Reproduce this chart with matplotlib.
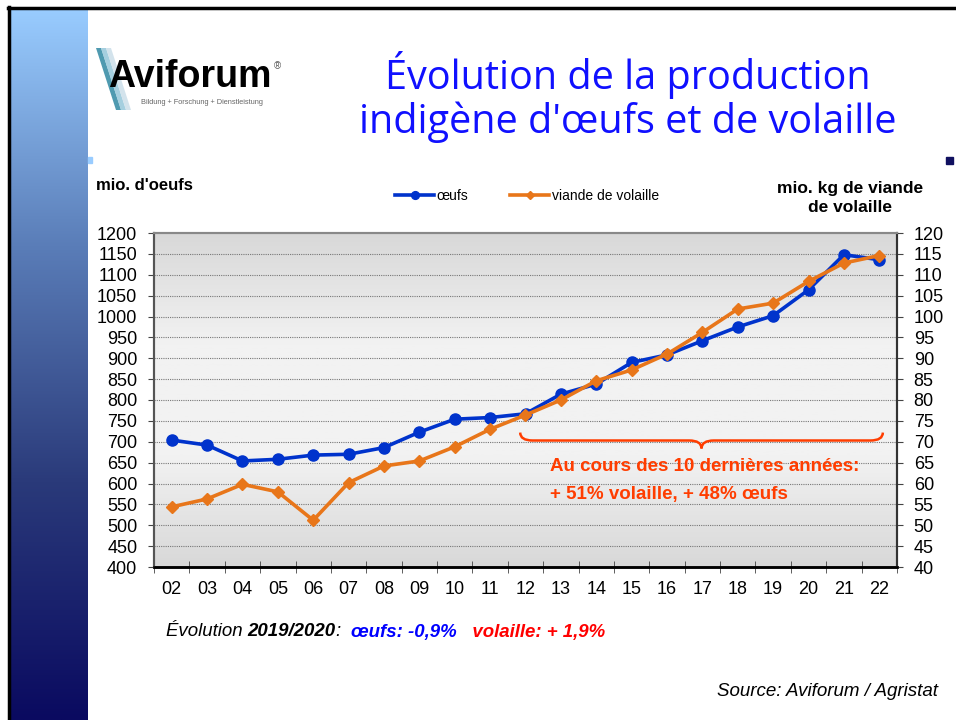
import numpy as np
import matplotlib
matplotlib.use("Agg")
import matplotlib.pyplot as plt
from matplotlib.path import Path
from matplotlib.patches import PathPatch, Polygon, Rectangle
from matplotlib.lines import Line2D
from matplotlib.colors import LinearSegmentedColormap

plt.rcParams['font.family'] = ['Liberation Sans', 'DejaVu Sans']

# ── données ──
years = ["02", "03", "04", "05", "06", "07", "08", "09", "10", "11", "12",
         "13", "14", "15", "16", "17", "18", "19", "20", "21", "22"]
oeufs = [704, 692, 654, 658, 668, 670, 686, 723, 754, 758, 767,
         814, 838, 890, 908, 942, 975, 1002, 1064, 1148, 1136]
volaille = [54.4, 56.3, 59.8, 58.0, 51.2, 60.2, 64.2, 65.4, 68.8, 73.0, 76.4,
            80.0, 84.6, 87.2, 91.0, 96.2, 101.8, 103.2, 108.4, 112.8, 114.6]
left_ticks = list(range(400, 1201, 50))
right_ticks = list(range(40, 121, 5))

BLUE = "#0033CC"
ORANGE = "#E8761A"
RED = "#FF3D00"

W, H = 956, 720
fig = plt.figure(figsize=(W / 100, H / 100), dpi=100)

# ── fond de la diapo (coordonnées pixel) ──
bg = fig.add_axes([0, 0, 1, 1], zorder=0)
bg.set_xlim(0, W); bg.set_ylim(H, 0); bg.axis("off")
grad = np.linspace(0, 1, 256)[:, None]
cm_bar = LinearSegmentedColormap.from_list("bar", ["#99CCFF", "#5A7DB8", "#2A3A7A", "#0A0A60"])
bg.imshow(grad, cmap=cm_bar, extent=[10, 88, H, 8], aspect="auto", zorder=1)
bg.add_line(Line2D([9, 9], [7, H], color="black", lw=2.5))
bg.add_line(Line2D([8, W], [7.5, 7.5], color="black", lw=2.5))
bg.add_patch(Rectangle((88, 157), 4, 6, color="#99CCFF"))
bg.add_patch(Rectangle((946, 157), 7, 7, color="#101060"))

# logo Aviforum
for dx, col, a in [(0, "#3C8FA8", 0.9), (5, "#8FC4D8", 0.8), (10, "#C9DDE8", 0.8)]:
    bg.add_patch(Polygon([[96 + dx, 48], [101 + dx, 48], [121 + dx, 110], [116 + dx, 110]],
                         closed=True, color=col, alpha=a, lw=0))
bg.text(108, 77, "Aviforum", fontsize=27, fontweight="bold", color="black",
        va="center", ha="left")
bg.text(274, 66, "®", fontsize=7, color="#555555", va="center", ha="left")
bg.text(141, 102, "Bildung + Forschung + Dienstleistung", fontsize=5.3,
        color="#666666", va="center", ha="left")

# titre
bg.text(628, 97, "Évolution de la production\nindigène d'œufs et de volaille",
        fontsize=28.5, color="#1010FF", ha="center", va="center",
        family=["Open Sans", "DejaVu Sans"], linespacing=1.05)

# ── graphique ──
ax = fig.add_axes([154 / W, 1 - 567 / H, (897 - 154) / W, (567 - 233) / H], zorder=2)
x = np.arange(len(years))
ax.set_xlim(-0.5, len(years) - 0.5)
ax.set_ylim(400, 1200)

cm_plot = LinearSegmentedColormap.from_list("pl", ["#D8D8D8", "#F2F2F2", "#F2F2F2", "#D8D8D8"])
ax.imshow(grad, cmap=cm_plot, extent=[-0.5, len(years) - 0.5, 400, 1200],
          aspect="auto", zorder=0)
for v in left_ticks[1:-1]:
    ax.axhline(v, color="#777777", lw=0.8, ls=(0, (1, 1)), zorder=1)

ax2 = ax.twinx()
ax2.set_ylim(40, 120)

ax.plot(x, oeufs, color=BLUE, lw=2.6, marker="o", ms=8, zorder=3, label="œufs")
ax2.plot(x, volaille, color=ORANGE, lw=2.6, marker="D", ms=6, zorder=3,
         label="viande de volaille")

ax.set_yticks(left_ticks)
ax.set_yticklabels([str(v) for v in left_ticks], fontsize=13)
ax2.set_yticks(right_ticks)
ax2.set_yticklabels([str(v) for v in right_ticks], fontsize=13)
ax.set_xticks(x)
ax.set_xticklabels(years, fontsize=13)
ax.tick_params(axis="x", length=0, pad=10)
ax.set_xticks(np.arange(-0.5, len(years)), minor=True)
ax.tick_params(axis="x", which="minor", length=8, direction="inout", color="#444444")
ax.tick_params(axis="y", length=4, color="#444444", pad=8)
ax2.tick_params(axis="y", length=4, color="#444444", pad=8)

for a in (ax, ax2):
    a.spines["top"].set_color("#888888"); a.spines["top"].set_linewidth(1.5)
    a.spines["bottom"].set_color("black"); a.spines["bottom"].set_linewidth(1.8)
    a.spines["left"].set_color("#555555"); a.spines["left"].set_linewidth(1.5)
    a.spines["right"].set_color("#333333"); a.spines["right"].set_linewidth(1.5)

# accolade
x0, x1, xc = 9.85, 20.1, (9.85 + 20.1) / 2
yt, ym, yb = 722, 703, 684
q = 0.35
verts = [(x0, yt), (x0, ym), (x0 + q, ym), (xc - q, ym), (xc, ym), (xc, yb),
         (xc, ym), (xc + q, ym), (x1 - q, ym), (x1, ym), (x1, yt)]
codes = [Path.MOVETO, Path.CURVE3, Path.CURVE3, Path.LINETO, Path.CURVE3, Path.CURVE3,
         Path.CURVE3, Path.CURVE3, Path.LINETO, Path.CURVE3, Path.CURVE3]
ax.add_patch(PathPatch(Path(verts, codes), fill=False, edgecolor=RED, lw=1.8, zorder=4))
ax.text(10.7, 640, "Au cours des 10 dernières années:", color=RED, fontsize=13.5,
        fontweight="bold", va="center", ha="left", zorder=5)
ax.text(10.7, 574, "+ 51% volaille, + 48% œufs", color=RED, fontsize=13.5,
        fontweight="bold", va="center", ha="left", zorder=5)

# légende et titres d'axes
h1, l1 = ax.get_legend_handles_labels()
h2, l2 = ax2.get_legend_handles_labels()
leg = fig.legend(h1 + h2, l1 + l2, loc="center", bbox_to_anchor=(527 / W, 1 - 196 / H),
                 ncol=2, frameon=False, fontsize=10, handlelength=2.8, markerscale=0.7,
                 columnspacing=3.0, handletextpad=0.2)
bg.text(96, 186, "mio. d'oeufs", fontsize=12, fontweight="bold", va="center", ha="left")
bg.text(850, 198, "mio. kg de viande\nde volaille", fontsize=12.5, fontweight="bold",
        va="center", ha="center", linespacing=1.25)

# texte du bas
parts = [("Évolution ", "black", "normal"), ("2019/2020", "black", "bold"),
         (":  ", "black", "normal"), ("œufs: -0,9%", "#0000FF", "bold"),
         ("   volaille: + 1,9%", "#FF0000", "bold")]
fig.canvas.draw()
r = fig.canvas.get_renderer()
xp = 166
for s, c, w in parts:
    t = bg.text(xp, 632, s, color=c, fontweight=w, style="italic", fontsize=13.4,
                va="center", ha="left")
    bb = t.get_window_extent(renderer=r)
    xp += bb.width
bg.text(938, 692, "Source: Aviforum / Agristat", fontsize=13.5, style="italic",
        va="center", ha="right")

fig.savefig("out.png", dpi=100)
